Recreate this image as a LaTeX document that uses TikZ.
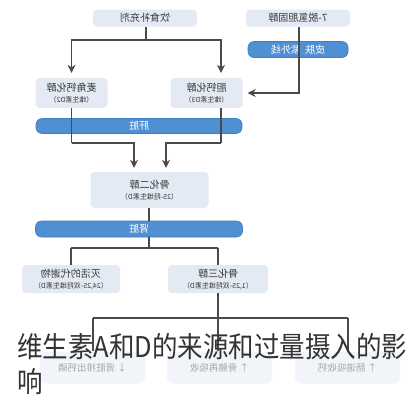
\documentclass[tikz,border=0pt]{standalone}
\usepackage{graphicx}
\usepackage{fontspec}
\setmainfont{Noto Sans CJK SC}
\usetikzlibrary{arrows.meta}
\newcommand\mirtext[1]{\reflectbox{#1}}
\definecolor{boxfill}{HTML}{E3EAF3}
\definecolor{barfill}{HTML}{4F8FD2}
\definecolor{bardraw}{HTML}{3F7EC0}
\definecolor{linec}{HTML}{4A4A4A}
\definecolor{txt}{HTML}{3A3A3A}
\definecolor{fadefill}{HTML}{F1F4F9}
\definecolor{fadetxt}{HTML}{A8A8A8}
\definecolor{titlec}{HTML}{333333}
\tikzset{
  pbox/.style={draw=none, fill=boxfill, rounded corners=4pt, inner sep=0pt, align=center,
    text=txt, font=\fontsize{10}{12}\selectfont},
  pbar/.style={draw=bardraw, line width=0.6pt, fill=barfill, rounded corners=6pt, inner sep=0pt,
    text=white, font=\fontsize{10}{12}\selectfont},
  fbox/.style={draw=none, fill=fadefill, rounded corners=5pt, inner sep=0pt,
    text=fadetxt, font=\fontsize{9.5}{11}\selectfont},
  conn/.style={draw=linec, line width=1.1pt},
  arr/.style={conn, -{Stealth[length=8pt,width=8pt]}},
  ttl/.style={text=titlec, font=\fontsize{25.5}{28}\selectfont, inner sep=0pt, anchor=base west}
}
\newcommand\subt[1]{{\fontsize{7}{8}\selectfont\mirtext{#1}}}
\begin{document}
\begin{tikzpicture}[x=1pt,y=-1pt]
\useasboundingbox[fill=white] (0,0) rectangle (412,400);
% top boxes
\node[pbox, minimum width=104pt, minimum height=17pt] (diet) at (145,18) {\mirtext{饮食补充剂}};
\node[pbox, minimum width=104pt, minimum height=17pt] (dhc) at (298,18) {\mirtext{7-脱氢胆固醇}};
\node[pbar, minimum width=100pt, minimum height=16pt] (skin) at (298,49.5) {\mirtext{皮肤\ \ 紫外线}};
% D2 / D3
\node[pbox, minimum width=72pt, minimum height=30pt] (d2) at (71.5,93) {\mirtext{麦角钙化醇}\\[-1pt]\subt{（维生素D2）}};
\node[pbox, minimum width=72pt, minimum height=30pt] (d3) at (206.5,93) {\mirtext{胆钙化醇}\\[-1pt]\subt{（维生素D3）}};
% liver
\node[pbar, minimum width=206pt, minimum height=15pt] (liver) at (139,126) {\mirtext{肝脏}};
% calcidiol
\node[pbox, minimum width=118pt, minimum height=36pt] (c2) at (149.5,190) {\mirtext{骨化二醇}\\[-1pt]\subt{（25-羟维生素D）}};
% kidney
\node[pbar, minimum width=207pt, minimum height=16pt] (kid) at (139,229) {\mirtext{肾脏}};
% metabolites
\node[pbox, minimum width=98pt, minimum height=28pt] (ina) at (71,279) {\mirtext{灭活的代谢物}\\[-1pt]\subt{（24,25-双羟维生素D）}};
\node[pbox, minimum width=100pt, minimum height=28pt] (c3) at (218,279) {\mirtext{骨化三醇}\\[-1pt]\subt{（1,25-双羟维生素D）}};
% bottom faded boxes
\node[fbox, minimum width=105pt, minimum height=32pt] (e1) at (92.5,367.5) {\mirtext{↓ 肾脏排出钙磷}};
\node[fbox, minimum width=105pt, minimum height=32pt] (e2) at (219.5,367.5) {\mirtext{↑ 骨骼再吸收}};
\node[fbox, minimum width=105pt, minimum height=32pt] (e3) at (347.5,367.5) {\mirtext{↑ 肠道吸收钙}};
% coordinates
\coordinate (j1) at (146,40);
\coordinate (j1l) at (71.5,40);
\coordinate (j1r) at (221,40);
\coordinate (rc) at (299,93);
\coordinate (l2) at (71.5,143);
\coordinate (l2b) at (134,143);
\coordinate (r2) at (221,143);
\coordinate (r2b) at (166,143);
\coordinate (k1) at (149,248);
\coordinate (k1l) at (71,248);
\coordinate (k1r) at (218,248);
\coordinate (b1) at (218,318);
\coordinate (b1l) at (93,318);
\coordinate (b1r) at (348,318);
% connectors
\draw[conn] (diet.south -| j1) -- (j1);
\draw[arr] (j1) -- (j1l) -- ([yshift=5pt]j1l |- d2.north);
\draw[arr] (j1) -- (j1r) -- ([yshift=5pt]j1r |- d3.north);
\draw[arr] (dhc.south -| rc) -- (rc) -- ([xshift=5pt]d3.east |- rc);
\draw[conn] (d2.south -| l2) -- (l2);
\draw[arr] (l2) -- (l2b) -- ([yshift=4pt]l2b |- c2.north);
\draw[conn] (d3.south -| r2) -- (r2);
\draw[arr] (r2) -- (r2b) -- ([yshift=4pt]r2b |- c2.north);
\draw[conn] (c2.south -| k1) -- (kid.north -| k1);
\draw[conn] (kid.south -| k1) -- (k1);
\draw[conn] (k1l) -- (k1r);
\draw[conn] (k1l) -- (ina.north -| k1l);
\draw[conn] (k1r) -- (c3.north -| k1r);
\draw[conn] (c3.south -| b1) -- (b1);
\draw[conn] (b1l) -- (b1r);
\draw[conn] (b1l) -- (e1.north -| b1l);
\draw[conn] (b1) -- (e2.north -| b1);
\draw[conn] (b1r) -- (e3.north -| b1r);
% overlay title
\node[ttl] (title1) at (17,357.5) {\scalebox{1}[1.12]{维生素A和D的来源和过量摄入的影}};
\node[ttl] (title2) at (17,392) {\scalebox{1}[1.12]{响}};
\end{tikzpicture}
\end{document}
